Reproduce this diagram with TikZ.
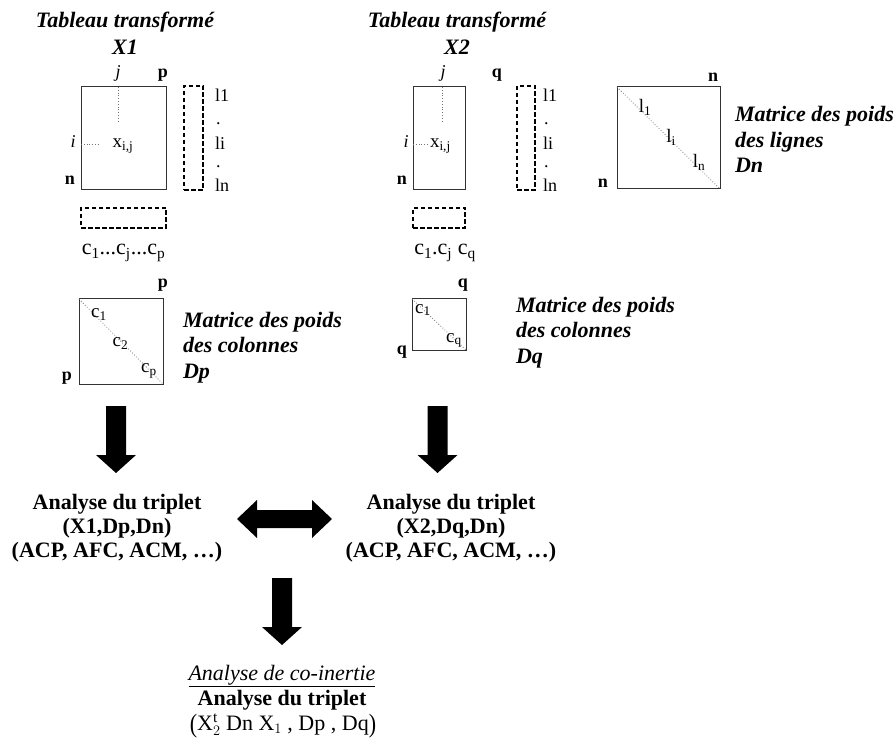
\documentclass[tikz,border=0pt]{standalone}
\usepackage{fontspec}
\setmainfont{Liberation Serif}
\begin{document}
\begin{tikzpicture}[x=1pt,y=-1pt,
  every node/.style={inner sep=0pt, outer sep=0pt},
  lbl/.style={font=\fontsize{18}{20}\selectfont, anchor=base},
  lblm/.style={font=\fontsize{19}{21}\selectfont, anchor=base},
  lblc/.style={font=\fontsize{22}{24}\selectfont, anchor=base},
  lblb/.style={font=\fontsize{18}{20}\selectfont\bfseries, anchor=base},
  lbli/.style={font=\fontsize{18}{20}\selectfont\itshape, anchor=base},
  head/.style={font=\fontsize{22}{27}\selectfont\bfseries\itshape, align=center, anchor=base},
  caption/.style={font=\fontsize{22}{25.5}\selectfont\bfseries\itshape, align=left, anchor=base west},
  result/.style={font=\fontsize{22}{24}\selectfont\bfseries, align=center, anchor=base},
  formula/.style={font=\fontsize{22}{24}\selectfont, anchor=base},
  matbox/.style={draw=black!80, line width=1pt, rectangle},
  wbox/.style={draw=black, line width=1.5pt, dash pattern=on 4.5pt off 2.5pt, rectangle},
  guide/.style={draw=black!55, line width=0.8pt, dotted},
  downarrow/.pic={\fill (-10,0) -- (10,0) -- (10,49) -- (20,49) -- (0,67) -- (-20,49) -- (-10,49) -- cycle;},
]
\useasboundingbox (0,0) rectangle (895,746);

% ---------- table X1 ----------
\node[head] (t1) at (125,55) {Tableau transformé\\X1};
\node[matbox, minimum width=85pt, minimum height=103pt] (X1) at (123.5,138.5) {};
\coordinate (j1) at (118,122);
\coordinate (i1) at (98,144);
\draw[guide] (X1.north -| j1) -- (j1);
\draw[guide] (X1.west |- i1) -- (i1);
\node[lbli] (j1l) at (118,78) {j};
\node[lblb] (p1a) at (163,78) {p};
\node[lbli] (i1l) at (73,148) {i};
\node[lblm] (x1) at (123,148) {x\textsubscript{i,j}};
\node[lblb] (n1) at (70,185) {n};
\node[wbox, minimum width=19pt, minimum height=104pt] (w1) at (193.5,138) {};
\node[lbl, anchor=base west] (l1a) at (215,102) {l1};
\node[lbl, anchor=base west] (l1b) at (216,125) {.};
\node[lbl, anchor=base west] (l1c) at (215,150) {li};
\node[lbl, anchor=base west] (l1d) at (216,168) {.};
\node[lbl, anchor=base west] (l1e) at (215,192) {ln};
\node[wbox, minimum width=85pt, minimum height=20pt] (cb1) at (123.5,218) {};
\node[lblc] (cl1) at (123.5,255) {c\textsubscript{1}...c\textsubscript{j}...c\textsubscript{p}};

% ---------- weights Dp ----------
\node[lblb] (p1b) at (163,288) {p};
\node[matbox, minimum width=84pt, minimum height=85pt] (Dp) at (121,341.5) {};
\draw[guide] (Dp.north west) -- (Dp.south east);
\node[lblm] (dp1) at (99,318) {c\textsubscript{1}};
\node[lblm] (dp2) at (120.5,347) {c\textsubscript{2}};
\node[lblm] (dp3) at (149,373) {c\textsubscript{p}};
\node[lblb] (p1c) at (67,380) {p};
\node[caption] (capDp) at (183,378) {Matrice des poids\\des colonnes\\Dp};

% ---------- table X2 ----------
\node[head] (t2) at (457,55) {Tableau transformé\\X2};
\node[matbox, minimum width=52pt, minimum height=103pt] (X2) at (439,138.5) {};
\coordinate (j2) at (442,122);
\coordinate (i2) at (428,144);
\draw[guide] (X2.north -| j2) -- (j2);
\draw[guide] (X2.west |- i2) -- (i2);
\node[lbli] (j2l) at (443,78) {j};
\node[lblb] (q2a) at (497,78) {q};
\node[lbli] (i2l) at (406,148) {i};
\node[lblm, anchor=base west] (x2) at (430,148) {x\textsubscript{i,j}};
\node[lblb] (n2) at (402,185) {n};
\node[wbox, minimum width=18pt, minimum height=104pt] (w2) at (526,138) {};
\node[lbl, anchor=base west] (l2a) at (543,102) {l1};
\node[lbl, anchor=base west] (l2b) at (544,125) {.};
\node[lbl, anchor=base west] (l2c) at (543,150) {li};
\node[lbl, anchor=base west] (l2d) at (544,168) {.};
\node[lbl, anchor=base west] (l2e) at (543,192) {ln};
\node[wbox, minimum width=52pt, minimum height=20pt] (cb2) at (439,218) {};
\node[lblc] (cl2) at (445,255) {c\textsubscript{1}.c\textsubscript{j} c\textsubscript{q}};

% ---------- weights Dq ----------
\node[lblb] (q2b) at (463,288) {q};
\node[matbox, minimum width=54pt, minimum height=51pt] (Dq) at (439,324.5) {};
\draw[guide] (Dq.north west) -- (Dq.south east);
\node[lblm] (dq1) at (423,313) {c\textsubscript{1}};
\node[lblm] (dq2) at (454,342) {c\textsubscript{q}};
\node[lblb] (q2d) at (402,354) {q};
\node[caption] (capDq) at (516,363) {Matrice des poids\\des colonnes\\Dq};

% ---------- weights Dn ----------
\node[lblb] (nn1) at (713,82) {n};
\node[matbox, minimum width=103pt, minimum height=102pt] (Dn) at (668.5,138) {};
\draw[guide] (Dn.north west) -- (Dn.south east);
\node[lblm] (dn1) at (645,113) {l\textsubscript{1}};
\node[lblm] (dn2) at (671,143) {l\textsubscript{i}};
\node[lblm] (dn3) at (699,168) {l\textsubscript{n}};
\node[lblb] (nn2) at (603,188) {n};
\node[caption] (capDn) at (735,173) {Matrice des poids\\des lignes\\Dn};

% ---------- analyses ----------
\pic at (116,406) {downarrow};
\pic at (437.5,406) {downarrow};
\node[result] (a1) at (117,557) {Analyse du triplet\\(X1,Dp,Dn)\\(ACP, AFC, ACM, …)};
\node[result] (a2) at (451,557) {Analyse du triplet\\(X2,Dq,Dn)\\(ACP, AFC, ACM, …)};
\fill (237,519) -- (257,500) -- (257,510) -- (312,510) -- (312,500) -- (332,519)
      -- (312,538) -- (312,528) -- (257,528) -- (257,538) -- cycle;
\pic at (282,578) {downarrow};
\node[font=\fontsize{22}{24}\selectfont\itshape, anchor=base] (co) at (282,680) {\underline{Analyse de co-inertie}};
\node[result] (a3) at (282,705) {Analyse du triplet};
\node[formula] (f3) at (283,730) {\raisebox{-0.1em}{\scalebox{1}[1.2]{(}}X$^{\mathrm{t}}_{2}$ Dn X$_{1}$ , Dp , Dq\raisebox{-0.1em}{\scalebox{1}[1.2]{)}}};
\end{tikzpicture}
\end{document}
